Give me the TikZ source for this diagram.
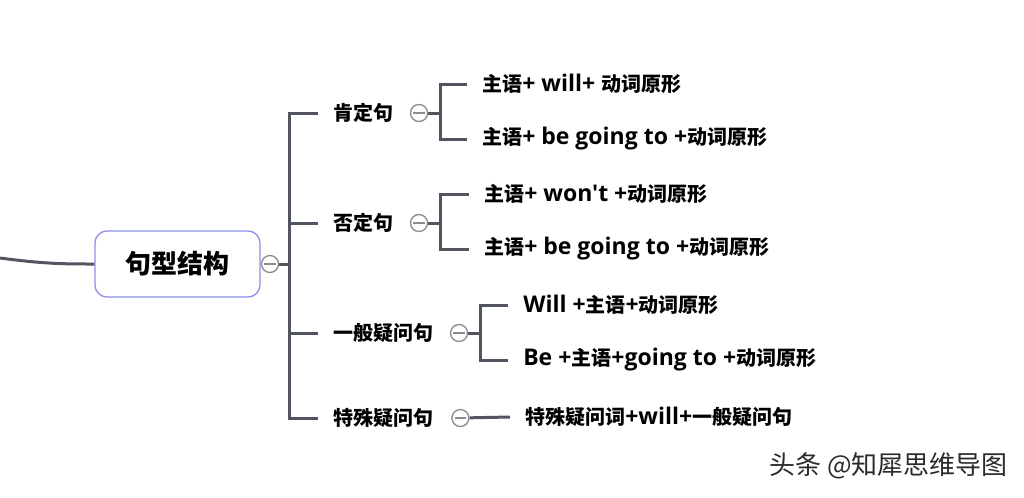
\documentclass[tikz,border=0pt]{standalone}
\usepackage{fontspec}
\setmainfont{Noto Sans CJK SC}[Ligatures=TeXOff]
\newfontfamily\enfont{Open Sans}[Scale=1.15, Ligatures=TeXOff]
\newcommand\en[1]{{\enfont #1}}
\usetikzlibrary{positioning, calc}
\definecolor{linegray}{HTML}{50555F}
\definecolor{rootedge}{HTML}{8F8FE6}
\definecolor{knobgray}{HTML}{8C8C8C}
\definecolor{markgray}{HTML}{2A2A2A}

\begin{document}
\begin{tikzpicture}[x=0.75pt, y=-0.75pt,
  conn/.style={draw=linegray, line width=2.25pt},
  rootbox/.style={draw=rootedge, line width=1pt, fill=white, rounded corners=9pt,
    minimum width=123.75pt, minimum height=49.5pt, font=\fontsize{19.5}{22}\selectfont\bfseries},
  branch/.style={anchor=west, inner xsep=11.25pt, inner ysep=2pt, font=\fontsize{15}{18}\selectfont\bfseries},
  leaf/.style={branch},
  knob/.style={circle, draw=knobgray, fill=white, line width=1pt, minimum size=12.75pt, inner sep=0pt,
    path picture={\draw[knobgray, line width=1pt] ([xshift=2pt]path picture bounding box.west)
      -- ([xshift=-2pt]path picture bounding box.east);}}]
  \useasboundingbox (0,0) rectangle (1024,497);

  % root
  \node[rootbox] (root) at (177.5,264) {句型结构};
  \node[knob] (rk) at (270,264) {};
  \coordinate (lft) at (0,258);
  \draw[conn] (lft) .. controls (45,264) and (65,264) .. (root.west);
  \coordinate (tr) at (289,264);
  \draw[conn] (rk) -- (tr);

  % branches
  \node[branch] (b1) at (318,113) {肯定句};
  \node[branch] (b2) at (318,223) {否定句};
  \node[branch] (b3) at (318,333) {一般疑问句};
  \node[branch] (b4) at (318,418) {特殊疑问句};
  \foreach \b in {b1,b2,b3,b4}
    \draw[conn] (tr) |- (\b.west);

  \node[knob, right=1pt of b1] (k1) {};
  \node[knob, right=1pt of b2] (k2) {};
  \node[knob, right=1pt of b3] (k3) {};
  \node[knob, right=2pt of b4] (k4) {};

  % leaves
  \node[leaf] (l11) at (467,84) {主语\en{+ will+ }动词原形};
  \node[leaf] (l12) at (467,139) {主语\en{+ be going to +}动词原形};
  \node[leaf] (l21) at (469,194) {主语\en{+ won't +}动词原形};
  \node[leaf] (l22) at (469,249) {主语\en{+ be going to +}动词原形};
  \node[leaf] (l31) at (508,305) {\en{Will +}主语\en{+}动词原形};
  \node[leaf] (l32) at (508,360) {\en{Be +}主语\en{+going to +}动词原形};
  \node[leaf] (l41) at (510,417) {特殊疑问词\en{+will+}一般疑问句};

  \coordinate (j1) at ($(k1.east)+(12,0)$);
  \coordinate (j2) at ($(k2.east)+(12,0)$);
  \coordinate (j3) at ($(k3.east)+(12,0)$);
  \draw[conn] (k1) -- (j1) |- (l11.west);
  \draw[conn] (j1) |- (l12.west);
  \draw[conn] (k2) -- (j2) |- (l21.west);
  \draw[conn] (j2) |- (l22.west);
  \draw[conn] (k3) -- (j3) |- (l31.west);
  \draw[conn] (j3) |- (l32.west);
  \draw[conn] (k4) -- (l41.west);

  % watermark
  \node[anchor=west, text=markgray, inner sep=0pt, font=\fontsize{19.5}{22}\selectfont] (mark) at (769,466) {头条 @知犀思维导图};
\end{tikzpicture}
\end{document}
